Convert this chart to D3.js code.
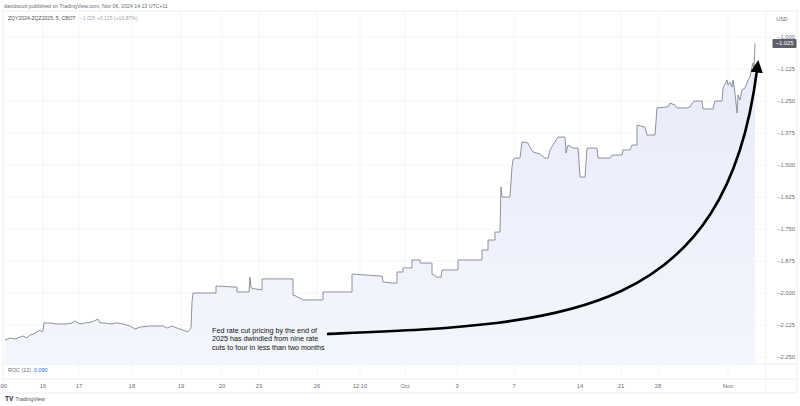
<!DOCTYPE html>
<html><head><meta charset="utf-8">
<script src="https://cdn.jsdelivr.net/npm/d3@7"></script>
<style>html,body{margin:0;padding:0;background:#fff;}svg{display:block;font-family:"Liberation Sans",Arial,sans-serif;}</style>
</head><body>
<svg id="chart" width="800" height="406"></svg>
<script>
// ---- data (x in 5-minute bar index, y = spread price) ----
const seriesPoints = [[10,-2.184],[20,-2.176],[30,-2.180],[40,-2.172],[46,-2.168],[54,-2.176],[60,-2.164],[68,-2.160],[74,-2.152],[80,-2.145],[84,-2.152],[86,-2.148],[88,-2.117],[100,-2.117],[110,-2.121],[120,-2.121],[134,-2.121],[144,-2.117],[150,-2.109],[156,-2.117],[160,-2.121],[170,-2.117],[184,-2.113],[196,-2.102],[200,-2.117],[210,-2.117],[220,-2.121],[234,-2.117],[246,-2.121],[260,-2.129],[270,-2.141],[280,-2.133],[300,-2.129],[326,-2.129],[334,-2.137],[344,-2.129],[354,-2.137],[366,-2.145],[376,-2.152],[382,-2.137],[384,-2.035],[386,-2.000],[432,-2.000],[432,-1.973],[474,-1.977],[474,-1.996],[498,-1.996],[500,-1.938],[502,-1.980],[510,-1.984],[524,-1.988],[524,-1.945],[586,-1.945],[586,-2.008],[592,-2.012],[606,-2.027],[646,-2.027],[646,-1.996],[704,-1.996],[704,-1.926],[764,-1.934],[766,-1.957],[784,-1.961],[794,-1.961],[794,-1.918],[806,-1.918],[806,-1.902],[824,-1.902],[824,-1.871],[840,-1.871],[840,-1.883],[864,-1.883],[864,-1.926],[874,-1.938],[882,-1.938],[884,-1.910],[916,-1.910],[916,-1.871],[964,-1.871],[964,-1.832],[976,-1.832],[976,-1.793],[990,-1.793],[990,-1.762],[1000,-1.762],[1002,-1.586],[1004,-1.625],[1020,-1.625],[1024,-1.508],[1026,-1.480],[1030,-1.473],[1040,-1.473],[1044,-1.410],[1056,-1.414],[1060,-1.430],[1066,-1.449],[1080,-1.457],[1090,-1.473],[1096,-1.473],[1100,-1.441],[1116,-1.391],[1130,-1.391],[1132,-1.453],[1136,-1.422],[1146,-1.434],[1156,-1.434],[1160,-1.547],[1170,-1.547],[1174,-1.434],[1194,-1.434],[1196,-1.473],[1220,-1.473],[1224,-1.461],[1244,-1.461],[1246,-1.441],[1260,-1.441],[1264,-1.422],[1274,-1.422],[1274,-1.344],[1290,-1.352],[1294,-1.383],[1310,-1.383],[1314,-1.277],[1336,-1.273],[1340,-1.258],[1350,-1.266],[1354,-1.277],[1374,-1.277],[1380,-1.273],[1386,-1.254],[1390,-1.250],[1404,-1.250],[1406,-1.281],[1426,-1.281],[1430,-1.250],[1444,-1.250],[1446,-1.199],[1454,-1.168],[1456,-1.188],[1460,-1.176],[1464,-1.195],[1466,-1.168],[1470,-1.219],[1474,-1.297],[1476,-1.227],[1480,-1.246],[1484,-1.207],[1490,-1.199],[1494,-1.180],[1496,-1.168],[1500,-1.156],[1504,-1.117],[1506,-1.102],[1508,-1.121],[1510,-1.025]];
const timeTickBars = [6,86,158,264,362,444,518,634,720,810,914,1028,1160,1242,1316,1456];
const timeTickLabels = [":00","16","17","18","19","20","23","26","12:10","Oct","3","7","14","21","28","Nov"];
const priceTicks = [-1.000,-1.125,-1.250,-1.375,-1.500,-1.625,-1.750,-1.875,-2.000,-2.125,-2.250];
const lastPrice = -1.025;
const arrowBars = [654, 1120, 1450, 1514];      // arrow path control points (bar index)
const arrowValues = [-2.160, -2.121, -2.113, -1.129];
const noteLines = ["Fed rate cut pricing by the end of","2025 has dwindled from nine rate","cuts to four in less than two months"];
const headerText = "davidscutt published on TradingView.com, Nov 06, 2024 14:13 UTC+11";
const symbolText = "ZQY2024-ZQZ2025, 5, CBOT";
const quoteText = "\u22121.025  +0.125 (+10.87%)";

// ---- layout ----
const svg = d3.select("#chart");
const paneL = 3, paneR = 766, paneT = 11, paneB = 364, rocB = 379, axisB = 393;
const x = d3.scaleLinear().domain([0, 1532]).range([0, 766]);
const y = d3.scaleLinear().domain([-2.25, -1.0]).range([357, 37]);
const fmt = v => (v < 0 ? "\u2212" : "") + d3.format(".3f")(Math.abs(v));

// header
svg.append("text").attr("x",4).attr("y",7.5).attr("font-size",5.2).attr("fill","#6a6d78").text(headerText);

// frame
svg.append("rect").attr("x",paneL).attr("y",paneT).attr("width",797-paneL).attr("height",axisB-paneT)
  .attr("fill","none").attr("stroke","#e6e8ee").attr("stroke-width",0.8);

// grid
const grid = svg.append("g");
grid.selectAll("line.h").data(priceTicks).join("line")
  .attr("x1",paneL).attr("x2",paneR).attr("y1",d=>y(d)).attr("y2",d=>y(d))
  .attr("stroke","#f2f3f7").attr("stroke-width",0.8);
grid.selectAll("line.v").data(timeTickBars.slice(1)).join("line")
  .attr("x1",d=>x(d)).attr("x2",d=>x(d)).attr("y1",paneT).attr("y2",rocB)
  .attr("stroke","#f2f3f7").attr("stroke-width",0.8);

// separators
svg.append("line").attr("x1",paneL).attr("x2",797).attr("y1",paneB).attr("y2",paneB).attr("stroke","#e6e8ee").attr("stroke-width",0.8);
svg.append("line").attr("x1",paneL).attr("x2",797).attr("y1",rocB).attr("y2",rocB).attr("stroke","#e6e8ee").attr("stroke-width",0.8);
svg.append("line").attr("x1",paneR).attr("x2",paneR).attr("y1",paneT).attr("y2",axisB).attr("stroke","#eef0f4").attr("stroke-width",0.8);

// area + line
const defs = svg.append("defs");
const grad = defs.append("linearGradient").attr("id","ag").attr("x1",0).attr("x2",0).attr("y1",0).attr("y2",1);
grad.append("stop").attr("offset","0%").attr("stop-color","#e7ebfa");
grad.append("stop").attr("offset","100%").attr("stop-color","#f4f6fd");
const area = d3.area().x(d=>x(d[0])).y0(paneB).y1(d=>y(d[1]));
const line = d3.line().x(d=>x(d[0])).y(d=>y(d[1]));
svg.append("path").datum(seriesPoints).attr("d",area).attr("fill","url(#ag)");
svg.append("path").datum(seriesPoints).attr("d",line).attr("fill","none").attr("stroke","#84868e").attr("stroke-width",0.9);

// symbol line
const sym = svg.append("text").attr("x",8).attr("y",19.5).attr("font-size",5.1);
sym.append("tspan").attr("fill","#50535e").text(symbolText);
sym.append("tspan").attr("fill","#a3a6af").attr("dx",4).text(quoteText);

// price axis
svg.append("text").attr("x",782).attr("y",21).attr("font-size",5.4).attr("fill","#6a6d78").attr("text-anchor","middle").text("USD");
svg.selectAll("text.pt").data(priceTicks).join("text")
  .attr("x",786).attr("y",d=>y(d)+2).attr("font-size",5.8).attr("fill","#6a6d78").attr("text-anchor","middle").text(fmt);
svg.append("rect").attr("x",772.5).attr("y",y(lastPrice)-4.5).attr("width",24).attr("height",9).attr("fill","#5d606b").attr("rx",1);
svg.append("text").attr("x",784.5).attr("y",y(lastPrice)+2).attr("font-size",5.8).attr("fill","#fff").attr("text-anchor","middle").text(fmt(lastPrice));

// ROC label
const roc = svg.append("text").attr("x",8).attr("y",372).attr("font-size",5.4);
roc.append("tspan").attr("fill","#6a6d78").text("ROC (12)");
roc.append("tspan").attr("fill","#2962ff").attr("dx",3).text("0.090");

// time axis
svg.selectAll("text.tt").data(timeTickBars).join("text")
  .attr("x",d=>x(d)).attr("y",387.5).attr("font-size",5.8).attr("fill","#6a6d78").attr("text-anchor","middle")
  .text((d,i)=>timeTickLabels[i]);

// TradingView logo
const logo = svg.append("text").attr("x",5).attr("y",401).attr("fill","#1e222d");
logo.append("tspan").attr("font-size",6.5).attr("font-weight","bold").text("TV");
logo.append("tspan").attr("font-size",5.4).attr("dx",2).attr("fill","#50535e").text("TradingView");

// annotation arrow
defs.append("marker").attr("id","ah").attr("viewBox","0 0 10 10").attr("refX",2).attr("refY",5)
  .attr("markerWidth",4.8).attr("markerHeight",4.8).attr("orient","auto")
  .append("path").attr("d","M0,0 L10,5 L0,10 Z").attr("fill","#000");
const ap = d3.path();
ap.moveTo(x(arrowBars[0]), y(arrowValues[0]));
ap.bezierCurveTo(x(arrowBars[1]), y(arrowValues[1]), x(arrowBars[2]), y(arrowValues[2]), x(arrowBars[3]), y(arrowValues[3]));
svg.append("path").attr("d",ap.toString()).attr("fill","none").attr("stroke","#000").attr("stroke-width",2.6).attr("marker-end","url(#ah)");

// annotation text
svg.append("g").selectAll("text").data(noteLines).join("text")
  .attr("x",212).attr("y",(d,i)=>332.5+i*8.6).attr("font-size",7.2).attr("fill","#111").text(d=>d);
</script>
</body></html>
